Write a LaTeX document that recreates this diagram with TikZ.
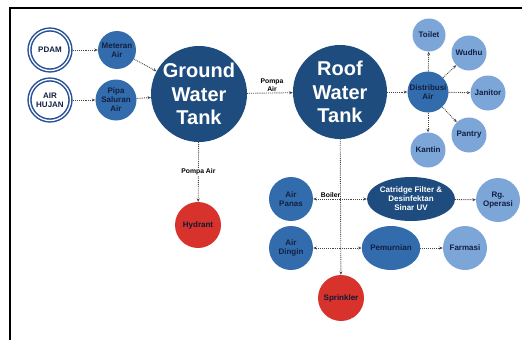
\documentclass[tikz,border=0pt]{standalone}
\usepackage{fontspec}
\setmainfont{Liberation Sans}
\usepackage{tikz}
\usetikzlibrary{arrows.meta,positioning,calc,shapes.geometric}
\definecolor{wtdark}{RGB}{31,76,126}
\definecolor{wtmid}{RGB}{50,108,172}
\definecolor{wtlight}{RGB}{124,165,216}
\definecolor{wtring}{RGB}{40,80,150}
\definecolor{wtred}{RGB}{216,50,44}
\definecolor{wttext}{RGB}{18,32,66}
\definecolor{wtline}{RGB}{70,70,70}

\begin{document}
\begin{tikzpicture}[
  x=1pt, y=-1pt,
  tank/.style={circle, fill=wtdark, text=white, align=center, minimum size=96pt, inner sep=0pt,
    font=\fontsize{20}{23.5}\selectfont\bfseries},
  ring/.style={circle, draw=wtring, line width=1.5pt, double=white, double distance=1.3pt, fill=white,
    text=wttext, align=center, minimum size=41pt, inner sep=0pt, font=\fontsize{8}{9}\selectfont\bfseries},
  midball/.style={circle, fill=wtmid, text=wttext, align=center, minimum size=#1, inner sep=0pt,
    font=\fontsize{8}{9}\selectfont\bfseries},
  midball/.default=40pt,
  lightball/.style={circle, fill=wtlight, text=wttext, align=center, minimum size=#1, inner sep=0pt,
    font=\fontsize{8}{9}\selectfont\bfseries},
  lightball/.default=44pt,
  fireball/.style={circle, fill=wtred, text=wttext!80!black, align=center, minimum size=46pt, inner sep=0pt,
    font=\fontsize{8}{9}\selectfont\bfseries},
  flow/.style={-{Stealth[length=3.5pt,width=3pt]}, densely dotted, line width=0.9pt, draw=wtline},
  tag/.style={font=\fontsize{6.8}{7.8}\selectfont\bfseries, text=black, align=center, inner sep=1pt}
]
  \useasboundingbox (0,0) rectangle (522,340);
  % frame
  \draw[line width=2pt] (10,340) -- (10,8) -- (522,8);

  % sources
  \node[ring] (pdam) at (50,50) {PDAM};
  \node[ring] (hujan) at (50,100) {AIR\\HUJAN};
  \node[midball=38pt] (meteran) at (117,50) {Meteran\\Air};
  \node[midball=41pt] (pipa) at (116,100) {Pipa\\Saluran\\Air};

  % tanks
  \node[tank] (gwt) at (199,94) {Ground\\Water\\Tank};
  \node[tank, minimum size=94pt] (rwt) at (340,92) {Roof\\Water\\Tank};

  % distribution
  \node[midball=41pt] (dist) at (428,92) {Distribusi\\Air};
  \node[lightball=33pt] (toilet) at (429,35) {Toilet};
  \node[lightball=35pt] (wudhu) at (469,53) {Wudhu};
  \node[lightball=35pt] (janitor) at (488,93) {Janitor};
  \node[lightball=35pt] (pantry) at (469,135) {Pantry};
  \node[lightball=35pt] (kantin) at (428,150) {Kantin};

  % fire protection
  \node[fireball] (hydrant) at (198,225) {Hydrant};
  \node[fireball] (sprinkler) at (341,298) {Sprinkler};

  % treatment
  \node[midball=44pt] (panas) at (291,199) {Air\\Panas};
  \node[ellipse, fill=wtdark, text=white, align=center, minimum width=88pt, minimum height=44pt, inner sep=0pt,
    font=\fontsize{8}{9}\selectfont\bfseries] (filter) at (411,199) {Catridge Filter \&\\Desinfektan\\Sinar UV};
  \node[lightball] (operasi) at (498,200) {Rg.\\Operasi};
  \node[midball=44pt] (dingin) at (291,248) {Air\\Dingin};
  \node[ellipse, fill=wtmid, text=wttext, minimum width=48pt, minimum height=44pt, inner sep=0pt,
    font=\fontsize{8}{9}\selectfont\bfseries] (murni) at (391,248) {Pemurnian};
  \node[lightball] (farmasi) at (465,248) {Farmasi};

  \coordinate (j1) at (rwt.south |- panas);
  \coordinate (j2) at (rwt.south |- dingin);

  % connectors
  \draw[flow] (pdam) -- (meteran);
  \draw[flow] (hujan) -- (pipa);
  \draw[flow] (meteran) -- (gwt);
  \draw[flow] (pipa) -- (gwt);
  \draw[flow] (gwt) -- node[tag, above, xshift=2pt] {Pompa\\Air} (rwt);
  \draw[flow] (gwt) -- node[tag, fill=white] {Pompa Air} (hydrant);
  \draw[flow] (rwt) -- (dist);
  \foreach \dest in {toilet,wudhu,janitor,pantry,kantin}
    \draw[flow] (dist) -- (\dest);
  \draw[flow] (rwt) -- (sprinkler);
  \draw[flow] (j1) -- node[tag, above, pos=0.35] {Boiler} (panas);
  \draw[flow] (j1) -- (filter);
  \draw[flow] (filter) -- (operasi);
  \draw[flow] (j2) -- (dingin);
  \draw[flow] (j2) -- (murni);
  \draw[flow] (murni) -- (farmasi);
\end{tikzpicture}
\end{document}
